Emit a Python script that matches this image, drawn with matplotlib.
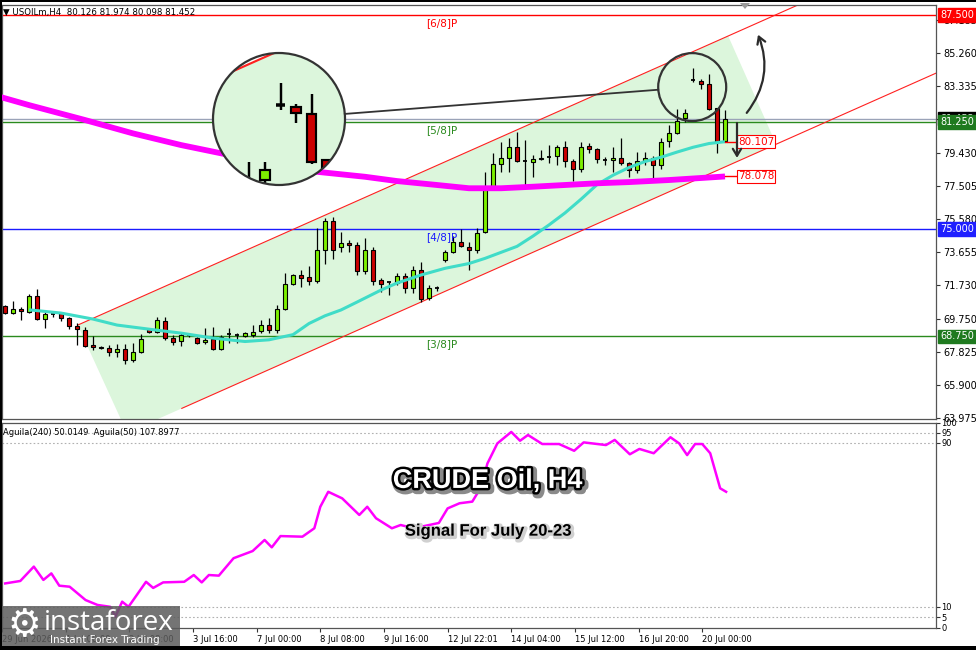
import matplotlib
matplotlib.use("Agg")
import matplotlib.pyplot as plt
import matplotlib.patheffects as pe
from matplotlib.patches import Rectangle, Circle, Polygon, FancyArrowPatch, Patch
from matplotlib.lines import Line2D
from matplotlib.collections import Collection
from matplotlib.transforms import Affine2D

# ---------------- data ----------------
bar_open = [70.52, 70.09, 70.35, 70.19, 71.10, 69.74, 70.13, 70.13, 69.80, 69.35,
            69.12, 68.25, 68.15, 68.05, 67.82, 68.01, 67.37, 67.85, 69.16, 69.02,
            69.64, 68.64, 68.49, 68.83, 68.67, 68.40, 68.58, 68.00, 68.83, 68.85,
            68.78, 68.83, 69.06, 69.41, 69.12, 70.33, 71.79, 72.33, 72.19, 71.98,
            73.79, 75.50, 73.94, 74.21, 74.08, 72.58, 73.79, 72.04, 71.86, 71.84,
            72.27, 71.55, 72.62, 70.97, 71.55, 73.20, 73.65, 74.24, 73.94, 73.79,
            74.85, 77.48, 78.79, 79.14, 79.78, 79.00, 78.94, 79.08, 79.20, 79.27,
            79.81, 79.00, 78.49, 79.85, 79.66, 79.04, 79.04, 79.14, 78.84, 78.45,
            79.00, 79.14, 78.75, 80.16, 80.62, 81.47, 83.66, 83.66, 83.45, 82.05,
            80.126]
bar_high = [70.58, 70.81, 70.44, 71.20, 71.51, 70.19, 70.19, 70.19, 69.90, 69.51,
            69.28, 68.77, 68.19, 68.25, 68.30, 68.30, 68.38, 68.89, 69.22, 69.90,
            69.90, 68.83, 69.02, 68.93, 68.74, 69.22, 69.28, 68.83, 69.22, 68.93,
            69.02, 69.41, 69.70, 69.80, 70.58, 72.43, 72.39, 72.62, 72.85, 75.05,
            75.64, 75.73, 74.85, 74.40, 74.27, 74.47, 73.98, 72.14, 71.94, 72.43,
            72.46, 72.85, 73.10, 71.73, 71.69, 73.79, 74.60, 74.99, 74.27, 75.05,
            78.35, 79.43, 80.10, 80.30, 80.69, 80.20, 79.33, 79.65, 79.91, 79.91,
            80.16, 79.08, 80.10, 80.01, 79.72, 79.23, 79.81, 80.30, 78.94, 79.52,
            79.52, 79.27, 80.30, 81.08, 81.99, 81.99, 84.38, 83.74, 84.05, 82.05,
            81.974]
bar_low = [70.05, 70.04, 69.70, 70.09, 69.70, 69.22, 69.90, 69.62, 69.16, 68.25,
           68.11, 67.95, 68.00, 67.60, 67.53, 67.14, 67.27, 67.80, 68.96, 68.93,
           68.54, 68.25, 68.19, 68.74, 68.30, 68.30, 67.95, 67.95, 68.35, 68.35,
           68.74, 68.70, 68.96, 68.96, 68.93, 70.29, 71.73, 71.65, 71.73, 71.84,
           72.95, 73.24, 73.69, 73.69, 72.33, 72.39, 71.73, 71.35, 71.16, 71.73,
           71.26, 71.26, 70.77, 70.90, 71.41, 73.10, 73.59, 73.98, 72.62, 73.59,
           74.76, 77.39, 78.35, 78.35, 78.94, 77.39, 78.06, 79.04, 78.84, 78.75,
           78.65, 77.83, 78.35, 79.46, 78.84, 78.75, 78.35, 78.75, 78.06, 78.26,
           78.75, 77.87, 78.49, 79.78, 80.55, 81.27, 83.57, 83.16, 81.95, 79.46,
           80.098]
bar_close = [70.09, 70.33, 70.21, 71.10, 69.74, 70.04, 70.06, 69.80, 69.35, 69.16,
             68.19, 68.11, 68.07, 67.82, 68.01, 67.37, 67.85, 68.58, 69.02, 69.70,
             68.64, 68.44, 68.83, 68.85, 68.35, 68.56, 68.00, 68.73, 68.87, 68.81,
             68.92, 69.02, 69.41, 69.12, 70.33, 71.79, 72.33, 72.17, 71.98, 73.79,
             75.50, 73.79, 74.21, 74.08, 72.58, 73.79, 72.00, 71.80, 71.90, 72.27,
             71.55, 72.62, 70.91, 71.55, 71.57, 73.65, 74.24, 74.04, 73.79, 74.76,
             77.48, 78.79, 79.14, 79.78, 79.00, 78.98, 79.08, 79.17, 79.23, 79.81,
             79.00, 78.49, 79.81, 79.66, 79.08, 79.06, 79.14, 78.84, 78.45, 79.00,
             79.14, 78.75, 80.10, 80.62, 81.32, 81.76, 83.70, 83.47, 82.01, 80.10,
             81.452]

ma_fast_bar = [3, 7, 11, 14, 18, 22, 26, 30, 33, 36, 38, 40, 42, 44, 47, 49, 52, 55,
               58, 60, 62, 64, 66, 68, 70, 72, 74, 76, 78, 80, 82, 84, 86, 88, 90]
ma_fast_val = [70.30, 70.11, 69.76, 69.41, 69.17, 68.94, 68.65, 68.45, 68.55, 68.85,
               69.50, 69.95, 70.29, 70.75, 71.45, 71.86, 72.33, 72.72,
               73.00, 73.30, 73.65, 74.00, 74.60, 75.25, 75.95, 76.75, 77.60, 78.15,
               78.60, 78.95, 79.20, 79.50, 79.78, 80.00, 80.107]

ma_slow_bar = [-1, 3, 10, 16, 22, 27, 33, 39, 45, 49, 54, 58, 62, 66, 70, 74, 78, 83, 90]
ma_slow_val = [82.77, 82.24, 81.37, 80.59, 79.91, 79.43, 78.86, 78.35, 78.06, 77.81,
               77.58, 77.39, 77.39, 77.48, 77.58, 77.68, 77.75, 77.87, 78.078]

osc_bar = [-0.6, 1.3, 3, 4.2, 5.2, 6.2, 7.5, 9.5, 11, 12.6, 13.25, 14.1, 14.9, 17.1,
           18, 19.25, 21.9, 23.1, 24.1, 25, 26.25, 28.1, 30.5, 32, 32.9, 34, 36.75,
           38.25, 39, 40, 41.75, 43.9, 44.9, 46, 48, 49.1, 50.75, 53.9, 55, 56.5,
           58.1, 59.25, 60, 61.25, 63, 64.1, 65.1, 66.9, 69, 70.9, 72.1, 74.9, 76,
           77.9, 79.1, 80.9, 83, 84.1, 85.1, 86.1, 87, 88, 89.25, 90]
osc_val = [21.5, 22.7, 29.7, 23.2, 26.4, 20.4, 19.9, 13.4, 11.0, 10.1, 5.3, 12.6, 10.1,
           22.3, 19.3, 22.0, 22.3, 25.6, 22.0, 25.6, 25.3, 33.8, 37.3, 42.7, 39.1, 44.6,
           44.3, 48.4, 58.9, 66.2, 63.0, 54.9, 58.9, 53.3, 48.4, 50.0, 48.4, 51.0, 58.1,
           60.6, 61.4, 68.7, 80.0, 89.8, 95.4, 91.1, 93.9, 89.5, 89.5, 86.2, 90.3, 89.0,
           91.5, 84.5, 87.1, 85.0, 92.8, 89.8, 84.1, 89.5, 89.5, 85.0, 67.9, 66.2]

murrey_levels = [87.5, 81.25, 75.0, 68.75]
murrey_labels = ["[6/8]P", "[5/8]P", "[4/8]P", "[3/8]P"]
murrey_colors = ["#ff0000", "#2a8a1e", "#1a1aff", "#2a8a1e"]
bid_price = 81.452

price_ticks = [87.185, 85.260, 83.335, 81.410, 79.430, 77.505, 75.580, 73.655,
               71.730, 69.750, 67.825, 65.900, 63.975]
osc_ticks = [100, 95, 90, 10, 5, 0]
osc_levels = [95, 90, 10, 5]

time_tick_bar = [-1, 7, 15, 23, 31, 39, 47, 55, 63, 71, 79, 87]
time_tick_labels = ["29 Jun 2026", "1 Jul 00:00", "2 Jul 08:00", "3 Jul 16:00",
                    "7 Jul 00:00", "8 Jul 08:00", "9 Jul 16:00", "12 Jul 22:01",
                    "14 Jul 04:00", "15 Jul 12:00", "16 Jul 20:00", "20 Jul 00:00"]

chan_upper = [(9.1, 69.41), (99.4, 88.14)]
chan_lower_start = (22.1, 64.55)
chan_fill = [(9.1, 69.41), (90.4, 86.27), (96.4, 79.96), (15.25, 63.13)]

lens_center = (85.9, 83.29)
arrow_up = [(92.5, 81.66), (94.0, 86.5)]
arrow_down = [(91.5, 81.36), (91.5, 79.0)]

# ---------------- style ----------------
W, H = 976, 650
DPI = 100
BULL = "#7cf000"
BEAR = "#cc0000"
FILL = "#dcf6dc"
CYAN = "#40dcc8"
MAG = "#ff00ff"
XMIN, XMAX = -0.375, 116.375
YMIN, YMAX = 63.93, 88.08

plt.rcParams['font.family'] = ['DejaVu Sans']

fig = plt.figure(figsize=(W / DPI, H / DPI), dpi=DPI)
fig.patch.set_facecolor('white')
pix = Affine2D().scale(1, -1).translate(0, H).scale(1.0 / W, 1.0 / H) + fig.transFigure


def px_rect(x0, y0, x1, y1):
    return [x0 / W, 1 - y1 / H, (x1 - x0) / W, (y1 - y0) / H]


slope = (chan_upper[1][1] - chan_upper[0][1]) / (chan_upper[1][0] - chan_upper[0][0])


def draw_scene(a, s=1.0, hlines=True):
    a.add_patch(Polygon(chan_fill, closed=True, fc=FILL, ec='none', zorder=0.5))
    if hlines:
        for lv, col in zip(murrey_levels, murrey_colors):
            a.axhline(lv, color=col, lw=1.0 * s, zorder=1)
        a.axhline(bid_price, color='#9aa3b8', lw=1.0 * s, zorder=1)
    for (x0, y0) in [chan_upper[0], chan_lower_start]:
        x1 = XMAX + 10
        a.plot([x0, x1], [y0, y0 + slope * (x1 - x0)], color='#ff2020', lw=0.8 * s, zorder=1.5)
    for i, (o, h, l, c) in enumerate(zip(bar_open, bar_high, bar_low, bar_close)):
        a.plot([i, i], [l, h], color='black', lw=0.9 * s, zorder=3, solid_capstyle='butt')
        lo, hi = min(o, c), max(o, c)
        if hi - lo < 0.07:
            a.plot([i - 0.31, i + 0.31], [c, c], color='black', lw=1.3 * s, zorder=3.1,
                   solid_capstyle='butt')
        else:
            a.add_patch(Rectangle((i - 0.31, lo), 0.62, hi - lo, fc=BULL if c > o else BEAR,
                                  ec='black', lw=0.8 * s, zorder=3.1))
    a.plot(ma_fast_bar, ma_fast_val, color=CYAN, lw=2.2 * s, zorder=4, solid_capstyle='butt')
    a.plot(ma_slow_bar, ma_slow_val, color=MAG, lw=4.2 * s, zorder=4.1, solid_capstyle='butt')


# ---------------- main price panel ----------------
ax = fig.add_axes(px_rect(2, 5, 936, 419))
ax.set_xlim(XMIN, XMAX)
ax.set_ylim(YMIN, YMAX)
draw_scene(ax)
for sp in ax.spines.values():
    sp.set_color('#555555')
    sp.set_linewidth(0.9)
ax.set_xticks([])
ax.yaxis.tick_right()
ax.set_yticks(price_ticks)
ax.set_yticklabels([f"{v:.3f}" for v in price_ticks])
ax.tick_params(axis='y', labelsize=7, length=3, pad=2, color='#333333')

label_bar = 54.6
for lv, lab, col in zip(murrey_levels, murrey_labels, murrey_colors):
    ax.annotate(lab, xy=(label_bar, lv), xytext=(0, -2), textcoords='offset points',
                ha='center', va='top', color=col, fontsize=7.5, zorder=5)

# right-side price boxes
bt = ax.get_yaxis_transform()
ax.annotate(f"{bid_price:.3f}", xy=(1, bid_price), xycoords=bt, xytext=(3, 0),
            textcoords='offset points', ha='left', va='center', fontsize=7, color='white',
            bbox=dict(boxstyle='square,pad=0.18', fc='black', ec='black'), annotation_clip=False,
            zorder=20)
for lv, col in zip(murrey_levels, ["#ff0000", "#1f7a1f", "#2020ff", "#1f7a1f"]):
    ax.annotate(f"{lv:.3f}", xy=(1, lv), xycoords=bt, xytext=(3, 0),
                textcoords='offset points', ha='left', va='center', fontsize=7, color='white',
                bbox=dict(boxstyle='square,pad=0.18', fc=col, ec=col), annotation_clip=False,
                zorder=21)

# MA value labels
for bx, vals in [(ma_fast_bar, ma_fast_val), (ma_slow_bar, ma_slow_val)]:
    ax.plot([bx[-1], bx[-1] + 1.5], [vals[-1], vals[-1]], color='#ff0000', lw=1.0, zorder=5)
    ax.text(bx[-1] + 1.6, vals[-1], f"{vals[-1]:.3f}", ha='left', va='center', fontsize=7.5,
            color='#ff0000', zorder=6,
            bbox=dict(boxstyle='square,pad=0.12', fc='white', ec='#ff0000', lw=0.8))

# arrows
ax.add_patch(FancyArrowPatch(arrow_up[0], arrow_up[1], connectionstyle='arc3,rad=0.3',
                             arrowstyle='->,head_length=5,head_width=3', lw=1.6,
                             color='#2b2b2b', zorder=7, clip_on=False))
ax.add_patch(FancyArrowPatch(arrow_down[0], arrow_down[1],
                             arrowstyle='->,head_length=5,head_width=3', lw=1.6,
                             color='#2b2b2b', zorder=7))

# ---------------- oscillator panel ----------------
ax2 = fig.add_axes(px_rect(2, 422.5, 936, 627.5))
ax2.set_xlim(XMIN, XMAX)
ax2.set_ylim(0, 100)
for lv in osc_levels:
    ax2.axhline(lv, color='#b0b0b0', lw=0.8, ls=(0, (1.5, 2)), zorder=1)
ax2.plot(osc_bar, osc_val, color=MAG, lw=1.8, zorder=3)
for sp in ax2.spines.values():
    sp.set_color('#555555')
    sp.set_linewidth(0.9)
ax2.yaxis.tick_right()
ax2.set_yticks(osc_ticks)
ax2.set_yticklabels([str(v) for v in osc_ticks])
ax2.tick_params(axis='y', labelsize=6, length=3, pad=1, color='#333333')
ax2.set_xticks(time_tick_bar)
ax2.set_xticklabels(time_tick_labels)
for t in ax2.get_xticklabels():
    t.set_ha('left')
ax2.tick_params(axis='x', labelsize=6, length=3, pad=2.5, color='#333333')
ax2.text(0.0015, 0.975, "Aguila(240) 50.0149  Aguila(50) 107.8977", transform=ax2.transAxes,
         ha='left', va='top', fontsize=6, color='black')

ax2.text(0.52, 0.715, "CRUDE Oil, H4", transform=ax2.transAxes, ha='center', va='center',
         fontsize=19.5, fontweight='bold', family='Liberation Sans', color='white', zorder=10,
         path_effects=[pe.Stroke(linewidth=6, foreground='#8a8a8a', offset=(1.5, -1.5)),
                       pe.Stroke(linewidth=3.5, foreground='black'), pe.Normal()])
ax2.text(0.52, 0.47, "Signal For July 20-23", transform=ax2.transAxes, ha='center',
         va='center', fontsize=12, fontweight='bold', family='Liberation Sans', color='black',
         zorder=10, path_effects=[pe.Stroke(linewidth=3, foreground='#d0d0d0', offset=(1, -1)),
                                  pe.Normal()])

# ---------------- magnifier lens ----------------
bpp = (XMAX - XMIN) / 934.0
ppp = (YMAX - YMIN) / 414.0
small_r = 34
big_c = (279, 119)
big_r = 66
cx, cy = lens_center
ax_in = fig.add_axes(px_rect(big_c[0] - big_r, big_c[1] - big_r, big_c[0] + big_r, big_c[1] + big_r))
ax_in.set_zorder(5)
ax_in.set_xlim(cx - small_r * bpp, cx + small_r * bpp)
ax_in.set_ylim(cy - small_r * ppp, cy + small_r * ppp)
ax_in.axis('off')
ax_in.add_patch(Circle((0.5, 0.5), 0.5, transform=ax_in.transAxes, fc='white', ec='none', zorder=0))
draw_scene(ax_in, s=big_r / small_r, hlines=False)
clipc = Circle((0.5, 0.5), 0.5, transform=ax_in.transAxes)
for art in ax_in.get_children():
    if isinstance(art, (Line2D, Patch, Collection)):
        art.set_clip_path(clipc)

disp = ax.transData.transform(lens_center)
fr = fig.transFigure.inverted().transform(disp)
sx, sy = fr[0] * W, (1 - fr[1]) * H
fig.add_artist(Circle(big_c, big_r, transform=pix, fill=False, ec='#333333', lw=1.6, zorder=10))
fig.add_artist(Circle((sx, sy), small_r, transform=pix, fill=False, ec='#333333', lw=1.6, zorder=10))
dx, dy = sx - big_c[0], sy - big_c[1]
dist = (dx * dx + dy * dy) ** 0.5
ux, uy = dx / dist, dy / dist
fig.add_artist(Line2D([big_c[0] + big_r * ux, sx - small_r * ux],
                      [big_c[1] + big_r * uy, sy - small_r * uy],
                      transform=pix, color='#333333', lw=1.3, zorder=10))

# ---------------- header, marker, border, logo ----------------
fig.text(3 / W, 1 - 12 / H, "\u25BC USOILm,H4  80.126 81.974 80.098 81.452", ha='left',
         va='center', fontsize=6.2, color='black', zorder=12)
fig.add_artist(Polygon([(740, 3), (750, 3), (745, 9)], closed=True, transform=pix,
                       fc='#9a9a9a', ec='none', zorder=12))
for (x, y, w, h) in [(0, 0, W, 2), (0, 0, 2, H), (0, H - 4, W, 4)]:
    fig.add_artist(Rectangle((x, y), w, h, transform=pix, fc='black', ec='none', zorder=15))

fig.add_artist(Rectangle((0, 606), 180, 40, transform=pix, fc='#5c5c5c', ec='none',
                         alpha=0.85, zorder=13))
fig.text(24 / W, 1 - 626 / H, "\u2699", ha='center', va='center', fontsize=27, color='white',
         zorder=14)
fig.text(44 / W, 1 - 623 / H, "instaforex", ha='left', va='center', fontsize=20,
         family='Open Sans', color='white', zorder=14)
fig.text(50 / W, 1 - 640 / H, "Instant Forex Trading", ha='left', va='center', fontsize=7.5,
         color='white', zorder=14)

fig.savefig("out.png", dpi=DPI, facecolor='white')
